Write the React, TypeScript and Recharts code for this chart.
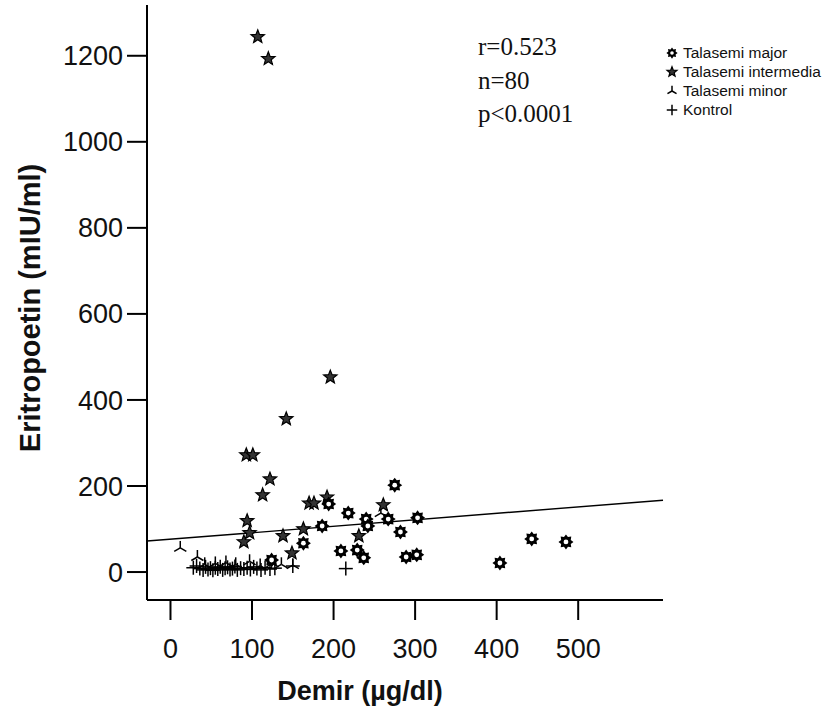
import { ScatterChart, Scatter, XAxis, YAxis, ReferenceLine, Label } from "recharts";

// ─── Data ──────────────────────────────────────────

const xTicks = [0, 100, 200, 300, 400, 500];
const yTicks = [0, 200, 400, 600, 800, 1000, 1200];

// Demir (µg/dl), Eritropoetin (mIU/ml)
const talasemiMajor = [
  [124, 28], [163, 67], [186, 107], [194, 158], [218, 137], [209, 49],
  [229, 51], [237, 33], [240, 123], [242, 107], [267, 123], [275, 202],
  [282, 93], [289, 35], [302, 40], [303, 126], [404, 21], [443, 77], [485, 70],
];

const talasemiIntermedia = [
  [107, 1244], [120, 1193], [196, 453], [142, 356], [93, 272], [101, 272],
  [122, 216], [113, 179], [94, 119], [90, 70], [97, 91], [138, 84],
  [163, 100], [149, 44], [170, 160], [176, 160], [192, 174], [231, 84], [261, 156],
];

const talasemiMinor = [
  [12, 56], [33, 35], [42, 18], [55, 20], [68, 22], [80, 18],
  [97, 25], [110, 15], [125, 20], [136, 18], [150, 16], [258, 137],
];

const kontrol = [
  [28, 10], [32, 14], [36, 8], [40, 5], [43, 12], [46, 6], [49, 9], [52, 4],
  [55, 10], [58, 7], [61, 12], [64, 5], [67, 9], [70, 11], [73, 6], [76, 8],
  [79, 13], [82, 5], [86, 9], [90, 7], [94, 10], [98, 6], [102, 12], [106, 8],
  [111, 5], [116, 10], [122, 7], [128, 9], [150, 14], [215, 8],
];

// fit line endpoints (r=0.523)
const regression = [
  { x: -28.8, y: 72 },
  { x: 604, y: 167 },
];

const toPoints = (pairs: number[][]) => pairs.map(([x, y]) => ({ x, y }));

// ─── Marker shapes ─────────────────────────────────

function GearMark({ cx, cy, s = 1 }: { cx: number; cy: number; s?: number }) {
  const pts: string[] = [];
  for (let i = 0; i < 16; i++) {
    const r = (i % 2 === 0 ? 7.5 : 5.2) * s;
    const a = (Math.PI / 8) * i - Math.PI / 2;
    pts.push(`${cx + r * Math.cos(a)},${cy + r * Math.sin(a)}`);
  }
  return (
    <g>
      <polygon points={pts.join(" ")} fill="#000" />
      <circle cx={cx} cy={cy} r={2.4 * s} fill="#fff" />
    </g>
  );
}

function StarMark({ cx, cy, s = 1 }: { cx: number; cy: number; s?: number }) {
  const pts: string[] = [];
  for (let i = 0; i < 10; i++) {
    const r = (i % 2 === 0 ? 7 : 3) * s;
    const a = (Math.PI / 5) * i - Math.PI / 2;
    pts.push(`${cx + r * Math.cos(a)},${cy + r * Math.sin(a)}`);
  }
  return <polygon points={pts.join(" ")} fill="#333" stroke="#000" strokeWidth={1.2} />;
}

function MinorMark({ cx, cy, s = 1 }: { cx: number; cy: number; s?: number }) {
  const r = 7 * s;
  const dx = r * Math.cos(Math.PI / 6);
  const dy = r * Math.sin(Math.PI / 6);
  return (
    <g stroke="#000" strokeWidth={1.5} fill="none">
      <line x1={cx} y1={cy} x2={cx} y2={cy - r} />
      <line x1={cx} y1={cy} x2={cx - dx} y2={cy + dy} />
      <line x1={cx} y1={cy} x2={cx + dx} y2={cy + dy} />
    </g>
  );
}

function PlusMark({ cx, cy, s = 1 }: { cx: number; cy: number; s?: number }) {
  const r = 7 * s;
  return (
    <g stroke="#000" strokeWidth={1.5}>
      <line x1={cx - r} y1={cy} x2={cx + r} y2={cy} />
      <line x1={cx} y1={cy - r} x2={cx} y2={cy + r} />
    </g>
  );
}

const legendItems = [
  { name: "Talasemi major", Mark: GearMark },
  { name: "Talasemi intermedia", Mark: StarMark },
  { name: "Talasemi minor", Mark: MinorMark },
  { name: "Kontrol", Mark: PlusMark },
];

const stats = ["r=0.523", "n=80", "p<0.0001"];

const FONT = '"Liberation Sans", Arial, sans-serif';

export default function App() {
  return (
    <div
      style={{
        position: "absolute",
        left: 0,
        top: 0,
        width: 832,
        height: 715,
        background: "#fff",
        fontFamily: FONT,
      }}
    >
      <ScatterChart
        width={832}
        height={715}
        margin={{ top: 5, right: 169, bottom: 0, left: 0 }}
      >
        <XAxis
          type="number"
          dataKey="x"
          domain={[-28.8, 604]}
          ticks={xTicks}
          allowDataOverflow
          height={115}
          tickSize={20}
          tickMargin={19}
          axisLine={{ stroke: "#000", strokeWidth: 2 }}
          tickLine={{ stroke: "#000", strokeWidth: 2 }}
          tick={{ fontSize: 27, fill: "#111", fontFamily: FONT }}
        >
          <Label
            content={() => (
              <text
                x={360}
                y={700}
                textAnchor="middle"
                fontSize={27}
                fontWeight="bold"
                fontFamily={FONT}
                fill="#111"
              >
                Demir (µg/dl)
              </text>
            )}
          />
        </XAxis>
        <YAxis
          type="number"
          dataKey="y"
          domain={[-65, 1318]}
          ticks={yTicks}
          allowDataOverflow
          width={147}
          tickSize={20}
          tickMargin={4}
          axisLine={{ stroke: "#000", strokeWidth: 2 }}
          tickLine={{ stroke: "#000", strokeWidth: 2 }}
          tick={{ fontSize: 27, fill: "#111", fontFamily: FONT }}
        >
          <Label
            content={() => (
              <text
                transform="translate(30,308) rotate(-90)"
                textAnchor="middle"
                dominantBaseline="central"
                fontSize={29}
                fontWeight="bold"
                fontFamily={FONT}
                fill="#111"
              >
                Eritropoetin (mIU/ml)
              </text>
            )}
          />
        </YAxis>
        <ReferenceLine
          segment={regression}
          stroke="#000"
          strokeWidth={1.4}
          ifOverflow="visible"
        />
        <Scatter
          name="Kontrol"
          data={toPoints(kontrol)}
          shape={(p: any) => <PlusMark cx={p.cx} cy={p.cy} />}
          isAnimationActive={false}
        />
        <Scatter
          name="Talasemi minor"
          data={toPoints(talasemiMinor)}
          shape={(p: any) => <MinorMark cx={p.cx} cy={p.cy} />}
          isAnimationActive={false}
        />
        <Scatter
          name="Talasemi intermedia"
          data={toPoints(talasemiIntermedia)}
          shape={(p: any) => <StarMark cx={p.cx} cy={p.cy} />}
          isAnimationActive={false}
        />
        <Scatter
          name="Talasemi major"
          data={toPoints(talasemiMajor)}
          shape={(p: any) => <GearMark cx={p.cx} cy={p.cy} />}
          isAnimationActive={false}
        />
      </ScatterChart>

      {/* stats annotation */}
      <div
        style={{
          position: "absolute",
          left: 478,
          top: 30,
          fontFamily: '"Liberation Serif", "Times New Roman", serif',
          fontSize: 25,
          lineHeight: "33.5px",
          color: "#111",
        }}
      >
        {stats.map((s) => (
          <div key={s}>{s}</div>
        ))}
      </div>

      {/* legend */}
      <div style={{ position: "absolute", left: 664, top: 43 }}>
        {legendItems.map(({ name, Mark }) => (
          <div
            key={name}
            style={{ display: "flex", alignItems: "center", height: 19 }}
          >
            <svg width={16} height={16}>
              <Mark cx={8} cy={8} s={0.75} />
            </svg>
            <span style={{ fontSize: 15.5, color: "#111", marginLeft: 3 }}>{name}</span>
          </div>
        ))}
      </div>
    </div>
  );
}
